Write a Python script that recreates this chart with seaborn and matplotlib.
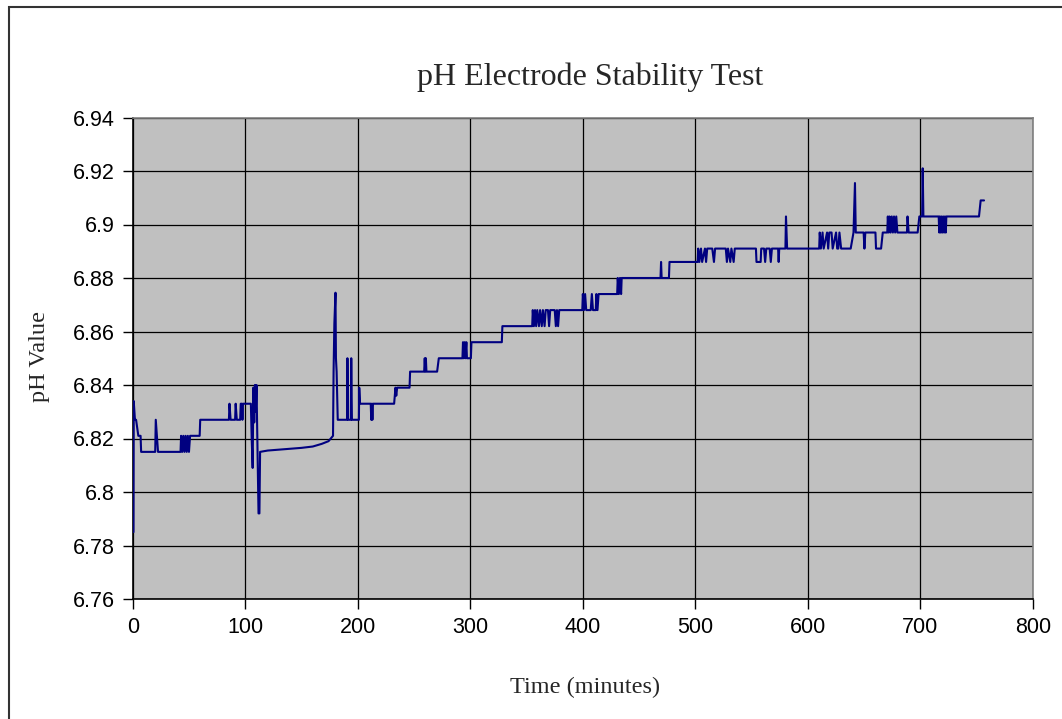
import matplotlib
matplotlib.use("Agg")
import matplotlib.pyplot as plt
import seaborn as sns
import pandas as pd
from matplotlib.patches import Rectangle

# ---- data ----
time_min = [
    0.7, 0.9, 2, 3, 5, 7, 7.5, 20, 20.5, 22.5, 42.5, 43, 44, 45, 46, 47, 48, 49, 50, 51,
    59.5, 60, 85.5, 86, 87, 91, 91.5, 92.5, 95.5, 96, 97, 97.5, 98, 105,
    105.8, 106.6, 107.2, 108, 108.6, 109.4, 110, 111.8, 112.6, 113.2,
    120, 135, 150, 160, 168, 174, 178,
    178.5, 179.2, 180.2, 180.6, 181.2, 181.6, 182.2, 190.5, 190.8, 191.3, 193.8, 194.2, 194.8,
    201, 201.3, 202, 211.5, 212, 212.5, 213, 213.5, 232.3, 233.5, 234.2, 235, 246, 246.5,
    259, 259.5, 260, 260.5, 261, 270.5, 272, 293, 293.5, 294, 295, 295.5, 296.5, 297,
    300.5, 301, 328, 328.5, 355, 355.5, 356.5, 357.5, 358.5, 359.5, 361, 362, 363.5, 364.5,
    366, 367, 369, 370, 371, 375, 376, 377, 378, 379,
    399.5, 400, 401, 402, 403, 407, 408, 409, 411.5, 412, 413, 414, 416, 430.5, 431, 432,
    433, 434, 434.5, 469, 469.5, 470, 476.5, 477, 502, 502.5, 503.5, 505, 506, 508.5,
    509.5, 510.5, 515, 516.5, 517.5, 527, 528, 529, 531, 532, 534, 535,
    553.8, 554.3, 558, 558.5, 561, 562, 563, 566, 567, 568, 573.5, 574, 574.5,
    580, 580.5, 581.5, 610, 610.5, 611.5, 613, 614, 617, 618, 619, 621, 622, 625, 626,
    627, 628, 629.5, 638, 640.5, 641.8, 642.5, 649.5, 650.2, 651, 660, 660.5, 665, 666.5,
    670.5, 671, 671.8, 672.5, 673.5, 674.5, 675.5, 676.5, 677.5, 678.5, 679.5, 680.5,
    688, 688.5, 689.5, 690, 697.5, 699, 701.5, 702, 702.6,
    716.2, 716.7, 717.3, 718, 718.7, 719.4, 720.2, 721, 721.7, 722.5, 723, 752, 753.5, 756.5,
]
ph_value = [
    6.785, 6.834, 6.827, 6.827, 6.821, 6.821, 6.815, 6.815, 6.827, 6.815, 6.815, 6.821, 6.815, 6.821, 6.815, 6.821, 6.815, 6.821, 6.815, 6.821,
    6.821, 6.827, 6.827, 6.833, 6.827, 6.827, 6.833, 6.827, 6.827, 6.833, 6.833, 6.827, 6.833, 6.833,
    6.819, 6.809, 6.839, 6.826, 6.840, 6.830, 6.840, 6.792, 6.792, 6.815,
    6.8155, 6.816, 6.8165, 6.817, 6.818, 6.819, 6.821,
    6.845, 6.863, 6.8745, 6.850, 6.845, 6.838, 6.827, 6.827, 6.850, 6.827, 6.827, 6.850, 6.827,
    6.827, 6.839, 6.833, 6.833, 6.827, 6.833, 6.827, 6.833, 6.833, 6.839, 6.836, 6.839, 6.839, 6.845,
    6.845, 6.850, 6.845, 6.850, 6.845, 6.845, 6.850, 6.850, 6.856, 6.850, 6.856, 6.850, 6.856, 6.850,
    6.850, 6.856, 6.856, 6.862, 6.862, 6.868, 6.862, 6.868, 6.862, 6.868, 6.862, 6.868, 6.862, 6.868,
    6.862, 6.868, 6.868, 6.862, 6.868, 6.868, 6.862, 6.868, 6.862, 6.868,
    6.868, 6.874, 6.868, 6.874, 6.868, 6.868, 6.874, 6.868, 6.868, 6.874, 6.868, 6.874, 6.874, 6.874, 6.880, 6.874,
    6.880, 6.874, 6.880, 6.880, 6.886, 6.880, 6.880, 6.886, 6.886, 6.891, 6.886, 6.891, 6.886, 6.891,
    6.886, 6.891, 6.891, 6.886, 6.891, 6.891, 6.886, 6.891, 6.886, 6.891, 6.886, 6.891,
    6.891, 6.886, 6.886, 6.891, 6.891, 6.886, 6.891, 6.891, 6.886, 6.891, 6.891, 6.886, 6.891,
    6.891, 6.903, 6.891, 6.891, 6.897, 6.891, 6.897, 6.891, 6.897, 6.891, 6.897, 6.897, 6.891, 6.897, 6.891,
    6.891, 6.897, 6.891, 6.891, 6.897, 6.9155, 6.897, 6.897, 6.891, 6.897, 6.897, 6.891, 6.891, 6.897,
    6.897, 6.903, 6.897, 6.903, 6.897, 6.903, 6.897, 6.903, 6.897, 6.903, 6.897, 6.897,
    6.897, 6.903, 6.897, 6.897, 6.897, 6.903, 6.903, 6.921, 6.903,
    6.903, 6.897, 6.903, 6.897, 6.903, 6.897, 6.903, 6.897, 6.903, 6.897, 6.903, 6.903, 6.909, 6.909,
]
x_ticks = [0, 100, 200, 300, 400, 500, 600, 700, 800]
y_ticks = [6.76, 6.78, 6.80, 6.82, 6.84, 6.86, 6.88, 6.90, 6.92, 6.94]
y_tick_labels = ["6.76", "6.78", "6.8", "6.82", "6.84", "6.86", "6.88", "6.9", "6.92", "6.94"]
title = "pH Electrode Stability Test"
x_label = "Time (minutes)"
y_label = "pH Value"

df = pd.DataFrame({"t": time_min, "ph": ph_value})

sns.set_theme(style="white")
plt.rcParams["font.family"] = ["Liberation Sans", "DejaVu Sans"]

W, H = 1062, 719
fig = plt.figure(figsize=(W / 100, H / 100), dpi=100)
fig.patch.set_facecolor("white")

left, top, right, bottom = 132.7, 117.5, 1033, 599
ax = fig.add_axes([left / W, 1 - bottom / H, (right - left) / W, (bottom - top) / H])
ax.set_facecolor("#C0C0C0")

sns.lineplot(data=df, x="t", y="ph", sort=False, estimator=None, ax=ax,
             color="#000080", linewidth=1.5, zorder=3)

ax.set_xlim(0, 800)
ax.set_ylim(6.76, 6.94)
ax.set_xticks(x_ticks)
ax.set_xticklabels([str(v) for v in x_ticks])
ax.set_yticks(y_ticks)
ax.set_yticklabels(y_tick_labels)
ax.grid(True, color="black", linewidth=0.9)
ax.set_axisbelow(True)
ax.tick_params(axis="both", direction="out", length=7, width=1, color="black",
               labelsize=15.5, labelcolor="black", pad=6, left=True, bottom=True)
ax.set_xlabel("")
ax.set_ylabel("")
for s in ["left", "bottom"]:
    ax.spines[s].set_color("black")
    ax.spines[s].set_linewidth(1.2)
for s in ["top", "right"]:
    ax.spines[s].set_color("#808080")
    ax.spines[s].set_linewidth(1.2)

serif = ["Liberation Serif", "DejaVu Serif"]
fig.text(590 / W, 1 - 77 / H, title, ha="center", va="center", fontsize=23, family=serif)
fig.text(585 / W, 1 - 687 / H, x_label, ha="center", va="center", fontsize=17.5, family=serif)
fig.text(40 / W, 1 - 357 / H, y_label, ha="center", va="center", rotation=90, fontsize=17.5, family=serif)

# outer chart frame
fig.add_artist(Rectangle((8.5 / W, -0.1), 1.2, 1 - 6.5 / H + 0.1, transform=fig.transFigure,
                         fill=False, edgecolor="#333333", linewidth=1.5))

fig.savefig("out.png", dpi=100)
